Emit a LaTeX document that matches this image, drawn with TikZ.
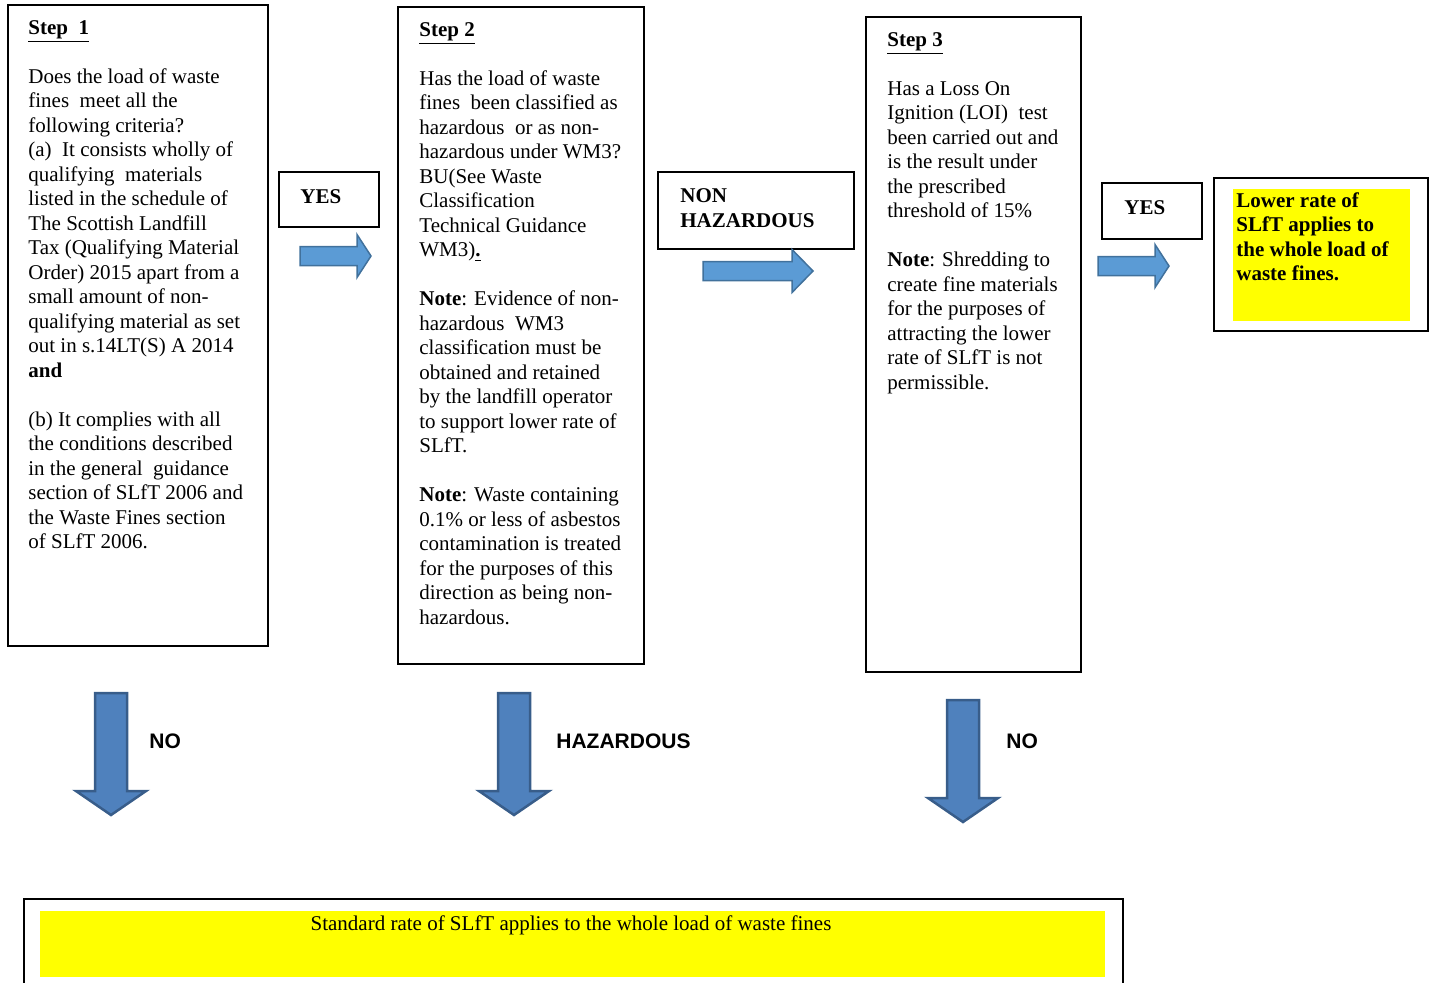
\documentclass[tikz,border=0pt]{standalone}
\usepackage{fontspec}
\setmainfont{Liberation Serif}
\newfontfamily\labelfont{Liberation Sans}
\usetikzlibrary{positioning}
\definecolor{arrowblue}{HTML}{5B9BD5}
\definecolor{arrowedge}{HTML}{41719C}
\definecolor{downblue}{HTML}{4F81BD}
\definecolor{downedge}{HTML}{385D8A}
\definecolor{boxyellow}{HTML}{FFFF00}

\tikzset{
  stepbox/.style={draw=black, line width=1pt, inner sep=0pt, anchor=north west},
  steptext/.style={inner sep=0pt, anchor=north west, align=left, font=\fontsize{10.5}{12.25}\selectfont},
  decision/.style={inner sep=0pt, anchor=west, align=left, font=\fontsize{10.5}{12.25}\selectfont\bfseries},
  branch/.style={inner sep=0pt, anchor=west, font=\labelfont\fontsize{10.5}{12.25}\selectfont\bfseries},
  yellowbox/.style={fill=boxyellow, inner sep=0pt, anchor=north west},
  pics/rightarrow/.style 2 args={code={
    \draw[fill=arrowblue, draw=arrowedge, line width=0.75pt]
      (0,-9.5) -- (#1-#2,-9.5) -- (#1-#2,-21.5) -- (#1,0) -- (#1-#2,21.5) -- (#1-#2,9.5) -- (0,9.5) -- cycle;}},
  pics/downarrow/.style={code={
    \draw[fill=downblue, draw=downedge, line width=1.25pt]
      (-16,0) -- (16,0) -- (16,98) -- (35,98) -- (0,122) -- (-35,98) -- (-16,98) -- cycle;}}
}

\begin{document}
\begin{tikzpicture}[x=0.5pt, y=-0.5pt]
	\useasboundingbox (0,0) rectangle (1435,982);
	
	% step boxes
	\node[stepbox, minimum width=130pt, minimum height=320.5pt] (step1) at (7,4) {};
	\node[steptext] (step1txt) at (28,20) {\underline{\textbf{Step\ \ 1}}\\[12.25pt]
		Does the load of waste\\
		fines\ \ meet all the\\
		following criteria?\\
		(a)\ \ It consists wholly of\\
		qualifying\ \ materials\\
		listed in the schedule of\\
		The Scottish Landfill\\
		Tax (Qualifying Material\\
		Order) 2015 apart from a\\
		small amount of non-\\
		qualifying material as set\\
		out in s.14LT(S) A 2014\\
		\textbf{and}\\[12.25pt]
		(b) It complies with all\\
		the conditions described\\
		in the general\ \ guidance\\
		section of SLfT 2006 and\\
		the Waste Fines section\\
		of SLfT 2006.};
	
	\node[stepbox, minimum width=123pt, minimum height=328.5pt] (step2) at (397,6) {};
	\node[steptext] (step2txt) at (419,22) {\underline{\textbf{Step 2}}\\[12.25pt]
		Has the load of waste\\
		fines\ \ been classified as\\
		hazardous\ \ or as non-\\
		hazardous under WM3?\\
		BU(See Waste\\
		Classification\\
		Technical Guidance\\
		WM3)\underline{\textbf{.}}\\[12.25pt]
		\textbf{Note}: Evidence of non-\\
		hazardous\ \ WM3\\
		classification must be\\
		obtained and retained\\
		by the landfill operator\\
		to support lower rate of\\
		SLfT.\\[12.25pt]
		\textbf{Note}: Waste containing\\
		0.1\% or less of asbestos\\
		contamination is treated\\
		for the purposes of this\\
		direction as being non-\\
		hazardous.};
	
	\node[stepbox, minimum width=107.5pt, minimum height=327.5pt] (step3) at (865,16) {};
	\node[steptext] (step3txt) at (887,32) {\underline{\textbf{Step 3}}\\[12.25pt]
		Has a Loss On\\
		Ignition (LOI)\ \ test\\
		been carried out and\\
		is the result under\\
		the prescribed\\
		threshold of 15\%\\[12.25pt]
		\textbf{Note}: Shredding to\\
		create fine materials\\
		for the purposes of\\
		attracting the lower\\
		rate of SLfT is not\\
		permissible.};
	
	% answer boxes
	\node[stepbox, minimum width=50pt, minimum height=27.5pt] (yes1) at (278,171) {};
	\node[decision] (yes1txt) at (300,197) {YES};
	\node[stepbox, minimum width=98pt, minimum height=38.5pt] (nonhaz) at (657,171) {};
	\node[decision] (nonhaztxt) at (680,208) {NON\\HAZARDOUS};
	\node[stepbox, minimum width=50pt, minimum height=28pt] (yes2) at (1101,182) {};
	\node[decision] (yes2txt) at (1124,208) {YES};
	
	% lower rate result
	\node[stepbox, minimum width=107pt, minimum height=76.5pt] (lower) at (1213,177) {};
	\node[yellowbox, minimum width=88.5pt, minimum height=66pt] (lowerfill) at (1233,189) {};
	\node[steptext, font=\fontsize{10.5}{12.25}\selectfont\bfseries] (lowertxt) at (1236,192) {Lower rate of\\
		SLfT applies to\\
		the whole load of\\
		waste fines.};
	
	% standard rate result
	\node[stepbox, minimum width=549.5pt, minimum height=50pt] (standard) at (23,898) {};
	\node[yellowbox, minimum width=532.5pt, minimum height=33pt] (standardfill) at (40,911) {};
	\node[inner sep=0pt, font=\fontsize{10.5}{12.25}\selectfont] (standardtxt) at (571,925) {Standard rate of SLfT applies to the whole load of waste fines};
	
	% arrows
	\pic at (300,256) {rightarrow={71}{14}};
	\pic at (703,271) {rightarrow={110}{21}};
	\pic at (1098,266) {rightarrow={71}{14}};
	\pic at (111,693) {downarrow};
	\pic at (514,693) {downarrow};
	\pic at (963,700) {downarrow};
	
	\node[branch] (no1) at (149,741) {NO};
	\node[branch] (haz) at (556,741) {HAZARDOUS};
	\node[branch] (no2) at (1006,741) {NO};
\end{tikzpicture}
\end{document}
